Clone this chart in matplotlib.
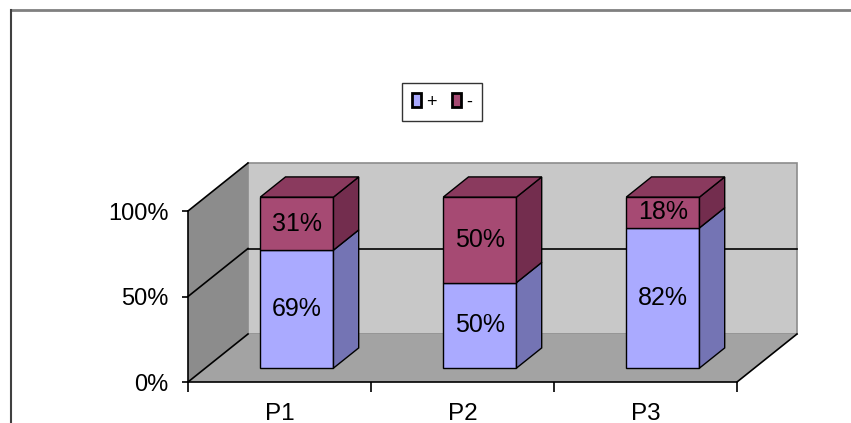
import matplotlib.pyplot as plt
from matplotlib.patches import Polygon, Patch
from matplotlib.lines import Line2D

plt.rcParams['font.family'] = ['Liberation Sans', 'DejaVu Sans']

categories = ['P1', 'P2', 'P3']
plus = [69, 50, 82]
minus = [31, 50, 18]
series_names = ['+', '-']
yticks = [0, 50, 100]
ytick_labels = ['0%', '50%', '100%']

# face colours: front, side, top
plus_cols = ('#AAAAFF', '#7474B4', '#8C8CD0')
minus_cols = ('#A64A73', '#732D4E', '#8A3A5E')

# depth offset of the box (in data units) and bar geometry
DX, DY = 60 / 183, 48 / 1.71
bar_w = 0.40
z0, z1 = 0.29, 0.71

fig = plt.figure(figsize=(8.51, 4.23), dpi=100)
ax = fig.add_axes([188 / 851, 41 / 423, 549 / 851, 171 / 423])
ax.set_xlim(0, len(categories))
ax.set_ylim(0, 100)
ax.patch.set_visible(False)

n = len(categories)


def poly(pts, fc, ec='black', lw=1.0, z=3):
    ax.add_patch(Polygon(pts, closed=True, facecolor=fc, edgecolor=ec,
                         linewidth=lw, zorder=z, clip_on=False))


# walls and floor
poly([(DX, DY), (n + DX, DY), (n + DX, 100 + DY), (DX, 100 + DY)],
     '#C8C8C8', ec='#8C8C8C', lw=1.2, z=0)
poly([(0, 0), (DX, DY), (DX, 100 + DY), (0, 100)], '#8C8C8C', ec='none', z=0.5)
poly([(0, 0), (n, 0), (n + DX, DY), (DX, DY)], '#A3A3A3', ec='none', z=0.6)

# floor right edge
ax.plot([n, n + DX], [0, DY], color='black', lw=1.2, clip_on=False, zorder=1)

# gridlines on the walls
for v in yticks:
    ax.plot([0, DX], [v, v + DY], color='black', lw=1.2, clip_on=False, zorder=1)
for v in yticks[1:-1]:
    ax.plot([DX, n + DX], [v + DY, v + DY], color='black', lw=1.2,
            clip_on=False, zorder=1)


def box(xc, y0, y1, cols, top):
    xl = xc - bar_w / 2 + z0 * DX
    xr = xc + bar_w / 2 + z0 * DX
    b0, b1 = y0 + z0 * DY, y1 + z0 * DY
    ddx, ddy = (z1 - z0) * DX, (z1 - z0) * DY
    poly([(xl, b0), (xr, b0), (xr, b1), (xl, b1)], cols[0])
    poly([(xr, b0), (xr + ddx, b0 + ddy), (xr + ddx, b1 + ddy), (xr, b1)], cols[1])
    if top:
        poly([(xl, b1), (xr, b1), (xr + ddx, b1 + ddy), (xl + ddx, b1 + ddy)], cols[2])
    return (xl + xr) / 2, (b0 + b1) / 2


for i in range(n):
    xc = i + 0.5
    cx, cy = box(xc, 0, plus[i], plus_cols, False)
    ax.text(cx, cy, f'{plus[i]}%', ha='center', va='center', fontsize=18, zorder=5)
    cx, cy = box(xc, plus[i], plus[i] + minus[i], minus_cols, True)
    ax.text(cx, cy, f'{minus[i]}%', ha='center', va='center', fontsize=18, zorder=5)

# axes
for s in ['top', 'right']:
    ax.spines[s].set_visible(False)
for s in ['left', 'bottom']:
    ax.spines[s].set_linewidth(1.2)
    ax.spines[s].set_zorder(2)

ax.set_yticks(yticks, ytick_labels, fontsize=17)
ax.tick_params(axis='y', direction='out', length=4, width=1.2, pad=10)
ax.set_xticks(range(n + 1), [''] * (n + 1))
ax.tick_params(axis='x', which='major', direction='out', length=7, width=1.2)
ax.set_xticks([i + 0.5 for i in range(n)], categories, minor=True, fontsize=17.5)
ax.tick_params(axis='x', which='minor', length=0, pad=15)

# legend
handles = [Patch(facecolor=plus_cols[0], edgecolor='black', linewidth=2),
           Patch(facecolor=minus_cols[0], edgecolor='black', linewidth=2)]
leg = fig.legend(handles, series_names, loc='center', ncol=2,
                 bbox_to_anchor=(442 / 851, 1 - 102 / 423),
                 bbox_transform=fig.transFigure, fontsize=13,
                 handlelength=0.5, handleheight=0.8, handletextpad=0.3,
                 columnspacing=0.8, borderpad=0.55, fancybox=False)
leg.get_frame().set_edgecolor('black')
leg.get_frame().set_linewidth(1.0)

# chart area border
fig.add_artist(Line2D([11 / 851, 1], [1 - 10.5 / 423, 1 - 10.5 / 423],
                      color='#808080', lw=2, transform=fig.transFigure))
fig.add_artist(Line2D([11 / 851, 11 / 851], [0, 1 - 10.5 / 423],
                      color='#404040', lw=1.5, transform=fig.transFigure))

fig.savefig('out.png', dpi=100)
